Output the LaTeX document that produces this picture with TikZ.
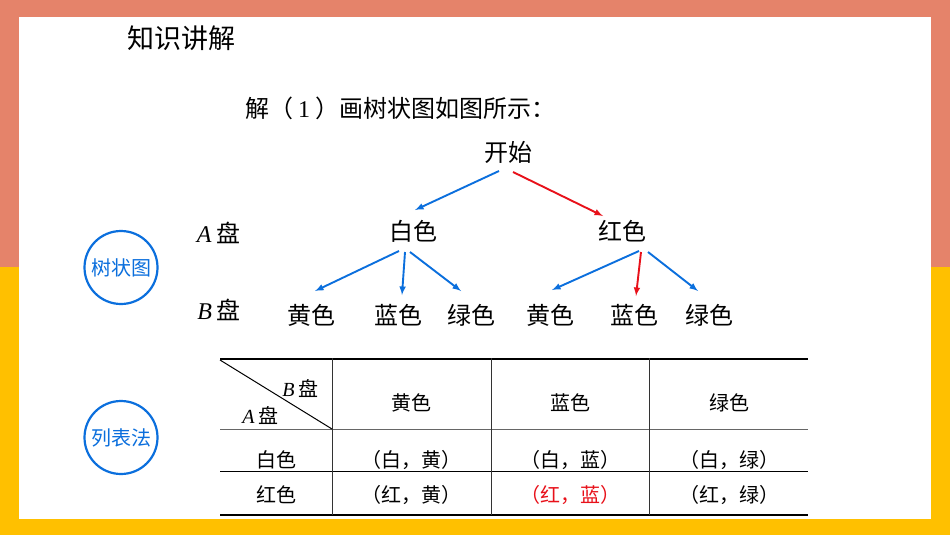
\documentclass[tikz,border=0pt]{standalone}
\usepackage{fontspec}
\setmainfont{Noto Sans CJK SC}
\newfontfamily\latinserif{Liberation Serif}
\definecolor{topband}{HTML}{E5836A}
\definecolor{lowband}{HTML}{FFC000}
\definecolor{treeblue}{HTML}{0B6FDD}
\definecolor{treered}{HTML}{E8111A}
\newcommand{\pan}[1]{{\latinserif\itshape #1}\hspace{0.2em}盘}
\begin{document}
\begin{tikzpicture}[x=1pt,y=-1pt,>=latex,
      % styles for clarity
      level/.style  ={font=\fontsize{24}{24}\selectfont, inner sep=0pt},
      cell/.style   ={font=\fontsize{20}{20}\selectfont, inner sep=0pt},
      method/.style ={draw=treeblue, line width=2.2pt, circle, minimum size=73pt, inner sep=0pt,
                      text=treeblue, font=\fontsize{20}{20}\selectfont},
      blueedge/.style={->, treeblue, line width=1.9pt},
      rededge/.style ={->, treered, line width=1.9pt}
    ]
    % page background
    \useasboundingbox (0,0) rectangle (950,535);
    \fill[topband] (0,0) rectangle (950,267);
    \fill[lowband] (0,267) rectangle (950,535);
    \fill[white] (19,17) rectangle (931,519);

    % headings
    \node[inner sep=0pt, font=\fontsize{27}{27}\selectfont] (title) at (181.5,38) {知识讲解};
    \node[level, anchor=west] (answer) at (245,108) {解（\hspace{5pt}{\latinserif 1}\hspace{5pt}）画树状图如图所示：};

    % method circles
    \node[method] (tree) at (121,267.5) {树状图};
    \node[method] (list) at (121,437.5) {列表法};

    % tree nodes
    \node[level] (start) at (508,152) {开始};
    \node[level] (w) at (413,231) {白色};
    \node[level] (r) at (622,231) {红色};
    \node[level] (la) at (218.5,233) {\pan{A}};
    \node[level] (lb) at (219,310) {\pan{B}};
    \foreach \t/\x/\n in {黄色/311/w1,蓝色/398/w2,绿色/471/w3,黄色/550/r1,蓝色/634/r2,绿色/709/r3}{
      \node[level] (\n) at (\x,315) {\t};
    }

    % tree edges, offsets from the node centres
    \draw[blueedge] ([shift={(-9,19)}]start.center) -- ([shift={(2,-21)}]w.center);
    \draw[rededge]  ([shift={(5,20)}]start.center) -- ([shift={(-19,-15)}]r.center);
    \draw[blueedge] ([shift={(-14,20)}]w.center) -- ([shift={(4,-24)}]w1.center);
    \draw[blueedge] ([shift={(-8,21)}]w.center) -- ([shift={(4,-20)}]w2.center);
    \draw[blueedge] ([shift={(-3,21)}]w.center) -- ([shift={(-10,-24)}]w3.center);
    \draw[blueedge] ([shift={(17,20)}]r.center) -- ([shift={(2,-25)}]r1.center);
    \draw[rededge]  ([shift={(19,21)}]r.center) -- ([shift={(2,-19)}]r2.center);
    \draw[blueedge] ([shift={(26,21)}]r.center) -- ([shift={(-11,-24)}]r3.center);

    % table rules
    \draw[line width=2pt] (220,358.5) -- (808,358.5);
    \draw[line width=2pt] (220,515) -- (808,515);
    \draw[line width=1pt, black!60] (220,429) -- (808,429);
    \draw[line width=0.9pt] (220,471) -- (808,471);
    \foreach \x in {332,491,649}{
      \draw[line width=0.7pt, black!80] (\x,358) -- (\x,515);
    }
    \draw[line width=1pt] (220,360) -- (332,429);

    % table text
    \node[cell] (hb) at (300.5,389) {\pan{B}};
    \node[cell] (ha) at (260.5,416) {\pan{A}};
    \node[cell] (rw) at (276,460) {白色};
    \node[cell] (rr) at (276,495) {红色};
    \foreach \t/\x [count=\i from 1] in {黄/411,蓝/570,绿/729}{
      \node[cell] (c\i) at (\x,403) {\t 色};
      \node[cell] (w\i c) at (\x,460) {（白，\t）};
      \ifnum\i=2
        \node[cell, text=treered] (r\i c) at (\x,495) {（红，\t）};
      \else
        \node[cell] (r\i c) at (\x,495) {（红，\t）};
      \fi
    }
  \end{tikzpicture}
\end{document}
